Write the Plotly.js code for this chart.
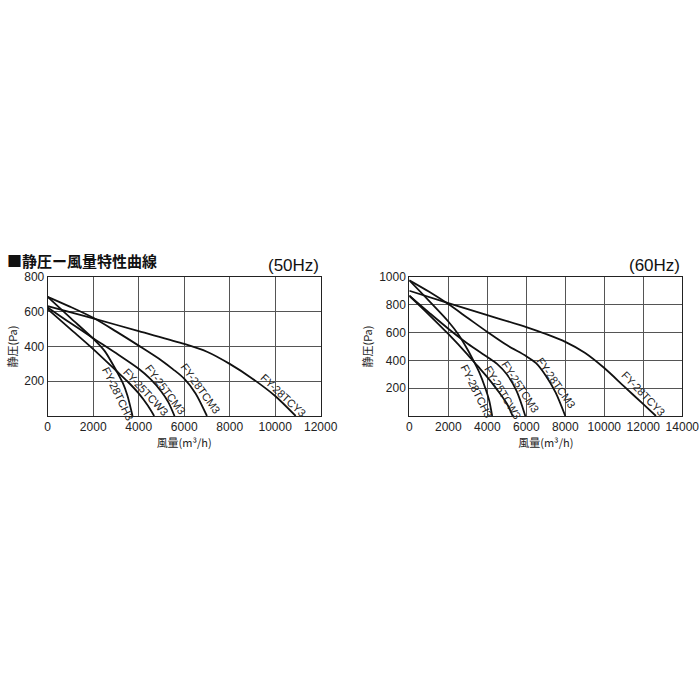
<!DOCTYPE html>
<html><head><meta charset="utf-8">
<script src="https://cdn.plot.ly/plotly-3.0.1.min.js"></script>
<style>html,body{margin:0;padding:0;background:#fff}#c{width:700px;height:700px}</style>
</head><body><div id="c"></div>
<script>
// ---- 50Hz data (flow m3/h, static pressure Pa)
const h50_28TCH3_x = [0,1000,2000,2500,3000,3300,3500,3730];
const h50_28TCH3_y = [686,565,445,375,265,190,120,0];
const h50_25TCW3_x = [0,1000,2000,3000,3500,4000,4400,4680];
const h50_25TCW3_y = [615,500,385,262,200,130,60,0];
const h50_25TCM3_x = [0,1000,2000,3000,4000,4500,5000,5300,5575];
const h50_25TCM3_y = [625,535,448,362,272,215,140,80,0];
const h50_28TCM3_x = [0,1000,2000,3000,4000,5000,5500,6000,6500,7000];
const h50_28TCM3_y = [686,628,565,487,405,320,270,215,130,0];
const h50_28TCY3_x = [0,2000,4000,6000,7000,8000,9000,10000,10900];
const h50_28TCY3_y = [632,562,488,415,370,300,215,115,0];
// ---- 60Hz data
const h60_28TCH3_x = [0,1000,2000,2500,3000,3300,3600,3900,4100,4250];
const h60_28TCH3_y = [976,830,680,590,475,395,310,200,110,0];
const h60_25TCW3_x = [0,1000,2000,3000,3500,4000,4500,5000,5300];
const h60_25TCW3_y = [865,730,590,440,360,280,190,90,0];
const h60_25TCM3_x = [0,1000,2000,3000,4000,4500,5000,5500,5950];
const h60_25TCM3_y = [865,745,628,520,425,375,300,180,0];
const h60_28TCM3_x = [0,1000,2000,3000,4000,5000,6000,6500,7000,7500,8000];
const h60_28TCM3_y = [976,895,805,705,605,510,430,380,290,170,0];
const h60_28TCY3_x = [0,2000,4000,6000,7000,8000,9000,10000,11000,12000,12650];
const h60_28TCY3_y = [901,812,725,640,590,533,455,345,215,85,0];

const names = ['FY-28TCH3','FY-25TCW3','FY-25TCM3','FY-28TCM3','FY-28TCY3'];
// label anchor points [x, y, angle]
const lab50 = [[3095,127,64],[4323,140,47],[5156,154,53],[6695,159,54],[10343,121,43]];
const lab60 = [[3453,181,64],[4786,173,59],[5709,210,57],[7521,234,55],[12034,161,46]];

const x50Ticks = [0,2000,4000,6000,8000,10000,12000];
const y50Ticks = [200,400,600,800];
const x60Ticks = [0,2000,4000,6000,8000,10000,12000,14000];
const y60Ticks = [200,400,600,800,1000];

const title = '■静圧ー風量特性曲線';
const xTitle = '風量(m³/h)';
const yTitle = '静圧(Pa)';

const FONT = 'Liberation Sans, Arial, Noto Sans CJK JP, sans-serif';
const JFONT = 'Noto Sans CJK JP, Liberation Sans, sans-serif';

const set50 = [[h50_28TCH3_x,h50_28TCH3_y],[h50_25TCW3_x,h50_25TCW3_y],[h50_25TCM3_x,h50_25TCM3_y],[h50_28TCM3_x,h50_28TCM3_y],[h50_28TCY3_x,h50_28TCY3_y]];
const set60 = [[h60_28TCH3_x,h60_28TCH3_y],[h60_25TCW3_x,h60_25TCW3_y],[h60_25TCM3_x,h60_25TCM3_y],[h60_28TCM3_x,h60_28TCM3_y],[h60_28TCY3_x,h60_28TCY3_y]];

const traces = [];
set50.forEach((s,i)=>traces.push({x:s[0],y:s[1],name:names[i],mode:'lines',line:{color:'#111',width:1.8,shape:'spline',smoothing:0.8},xaxis:'x',yaxis:'y',hoverinfo:'skip'}));
set60.forEach((s,i)=>traces.push({x:s[0],y:s[1],name:names[i],mode:'lines',line:{color:'#111',width:1.8,shape:'spline',smoothing:0.8},xaxis:'x2',yaxis:'y2',hoverinfo:'skip'}));

const annotations = [];
lab50.forEach((l,i)=>annotations.push({x:l[0],y:l[1],xref:'x',yref:'y',text:names[i],textangle:l[2],showarrow:false,font:{family:FONT,size:11,color:'#222'}}));
lab60.forEach((l,i)=>annotations.push({x:l[0],y:l[1],xref:'x2',yref:'y2',text:names[i],textangle:l[2],showarrow:false,font:{family:FONT,size:11,color:'#222'}}));
annotations.push({x:5/700,y:1-260/700,xref:'paper',yref:'paper',xanchor:'left',yanchor:'middle',text:'<b>'+title+'</b>',showarrow:false,font:{family:JFONT,size:15,color:'#111'}});
annotations.push({x:321/700,y:1-265/700,xref:'paper',yref:'paper',xanchor:'right',yanchor:'middle',text:'(50Hz)',showarrow:false,font:{family:FONT,size:17,color:'#111'}});
annotations.push({x:682/700,y:1-265/700,xref:'paper',yref:'paper',xanchor:'right',yanchor:'middle',text:'(60Hz)',showarrow:false,font:{family:FONT,size:17,color:'#111'}});

function ax(dom, range, ticks, extra){
  return Object.assign({domain:dom,range:range,tickvals:ticks,ticktext:ticks.map(String),showgrid:true,gridcolor:'#555',gridwidth:1,
    zeroline:false,showline:true,mirror:true,linecolor:'#222',linewidth:1,ticks:'',fixedrange:true,
    tickfont:{family:FONT,size:12,color:'#222'}},extra);
}
const yd = [1-416/700, 1-277/700];
const layout = {
  width:700,height:700,margin:{l:0,r:0,t:0,b:0},paper_bgcolor:'#fff',plot_bgcolor:'#fff',showlegend:false,
  xaxis: ax([47.7/700,320.7/700],[0,12000],x50Ticks,{anchor:'y',title:{text:xTitle,font:{family:JFONT,size:11,color:'#222'},standoff:2}}),
  yaxis: ax(yd,[0,800],y50Ticks,{anchor:'x',title:{text:yTitle,font:{family:JFONT,size:11,color:'#222'},standoff:4}}),
  xaxis2: ax([409.3/700,682.3/700],[0,14000],x60Ticks,{anchor:'y2',title:{text:xTitle,font:{family:JFONT,size:11,color:'#222'},standoff:2}}),
  yaxis2: ax(yd,[0,1000],y60Ticks,{anchor:'x2',title:{text:yTitle,font:{family:JFONT,size:11,color:'#222'},standoff:4}}),
  annotations:annotations
};
Plotly.newPlot('c',traces,layout,{displayModeBar:false,staticPlot:true});
</script></body></html>
